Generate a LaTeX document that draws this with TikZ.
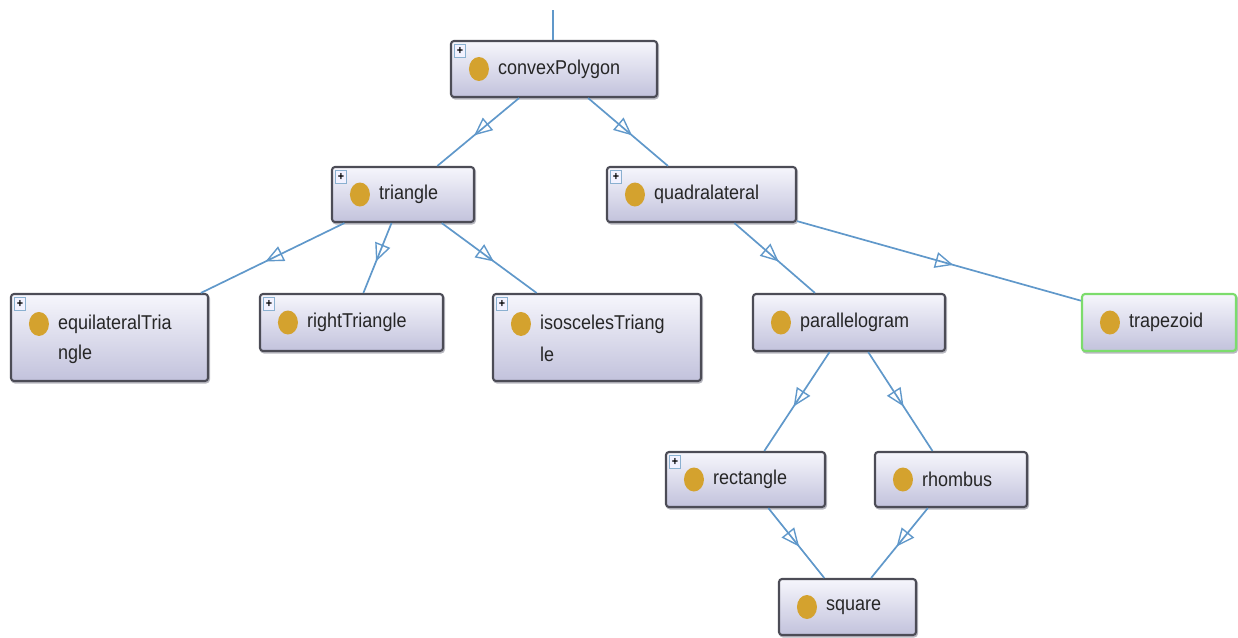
\documentclass[tikz,border=0pt]{standalone}
\usepackage{fontspec}
\newfontfamily\nf[FakeStretch=0.9]{Liberation Sans}
\usetikzlibrary{arrows.meta,decorations.markings,calc,shapes.geometric}
\definecolor{edgeblue}{HTML}{6098CA}
\definecolor{gold}{HTML}{D4A22E}
\definecolor{boxline}{HTML}{4C4C56}
\definecolor{boxshadow}{HTML}{B8B8C0}
\definecolor{boxtop}{HTML}{F6F6FC}
\definecolor{boxbot}{HTML}{C2C2DC}
\definecolor{greenline}{HTML}{7CDC6C}
\definecolor{plusline}{HTML}{8AB0D0}
\begin{document}
\begin{tikzpicture}[x=1pt,y=-1pt,
  cls/.style={draw=boxline, line width=2.1pt, rounded corners=3pt, top color=boxtop, bottom color=boxbot, inner sep=0pt,
    preaction={draw=boxshadow, line width=2pt, transform canvas={xshift=1pt,yshift=-1.5pt}}},
  dot/.style={ellipse, fill=gold, minimum width=20pt, minimum height=24pt, inner sep=0pt},
  lbl/.style={font=\nf\fontsize{20}{24}\selectfont, text=black!85, inner sep=0pt, anchor=west},
  plusbox/.style={draw=plusline, fill=blue!5, line width=0.9pt, minimum width=11pt, minimum height=13pt, inner sep=0pt, font=\nf\fontsize{12}{12}\selectfont\bfseries},
  isa/.style={draw=edgeblue, line width=1.7pt, postaction={decorate},
    decoration={markings, mark=at position 0.55 with {\arrow[line width=1.4pt]{Triangle[open,length=18pt,width=16pt]}}}}
]
\useasboundingbox (0,0) rectangle (1238,637);
% class boxes
\node[cls, minimum width=206pt, minimum height=56pt] (cp) at (554,69) {};
\node[cls, minimum width=142pt, minimum height=55pt] (tri) at (403,194.5) {};
\node[cls, minimum width=189pt, minimum height=55pt] (quad) at (701.5,194.5) {};
\node[cls, minimum width=197pt, minimum height=87pt] (eq) at (109.5,337.5) {};
\node[cls, minimum width=183pt, minimum height=57pt] (rt) at (351.5,322.5) {};
\node[cls, minimum width=208pt, minimum height=87pt] (iso) at (597,337.5) {};
\node[cls, minimum width=192pt, minimum height=57pt] (par) at (849,322.5) {};
\node[cls, draw=greenline, minimum width=154pt, minimum height=57pt] (trap) at (1159,322.5) {};
\node[cls, minimum width=159pt, minimum height=55pt] (rect) at (745.5,479.5) {};
\node[cls, minimum width=152pt, minimum height=55pt] (rhom) at (951,479.5) {};
\node[cls, minimum width=137pt, minimum height=56pt] (sq) at (847.5,607) {};
% icons and labels
\foreach \n/\t in {cp/convexPolygon, tri/triangle, quad/quadralateral, rt/rightTriangle, par/parallelogram, trap/trapezoid, rect/rectangle, rhom/rhombus, sq/square}{
  \node[dot] (\n-dot) at ($(\n.west)+(29,0)$) {};
  \node[lbl] (\n-lbl) at ($(\n.west)+(48,0)$) {\t};
}
\node[dot] (eq-dot) at ($(eq.north west)+(29,31)$) {};
\node[lbl] (eq-l1) at ($(eq.north west)+(48,31)$) {equilateralTria};
\node[lbl] (eq-l2) at ($(eq.north west)+(48,61)$) {ngle};
\node[dot] (iso-dot) at ($(iso.north west)+(29,31)$) {};
\node[lbl] (iso-l1) at ($(iso.north west)+(48,31)$) {isoscelesTriang};
\node[lbl] (iso-l2) at ($(iso.north west)+(48,61)$) {le};
% expand markers
\foreach \n in {cp,tri,quad,eq,rt,iso,rect}{
  \node[plusbox] (\n-plus) at ($(\n.north west)+(10,11)$) {+};
}
% connectors
\coordinate (top) at (553,10);
\draw[draw=edgeblue, line width=1.8pt] (top) -- (cp.north -| top);
\draw[isa] (cp) -- (tri);
\draw[isa] (cp) -- (quad);
\draw[isa] (tri) -- (eq);
\draw[isa] (tri) -- (rt);
\draw[isa] (tri) -- (iso);
\draw[isa] (quad) -- (par);
\draw[isa] (quad) -- (trap);
\draw[isa] (par) -- (rect);
\draw[isa] (par) -- (rhom);
\draw[isa] (rect) -- (sq);
\draw[isa] (rhom) -- (sq);
\end{tikzpicture}
\end{document}
